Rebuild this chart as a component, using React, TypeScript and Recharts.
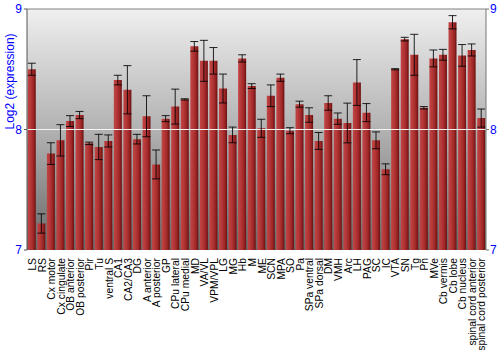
import React from 'react'
import { BarChart, Bar, XAxis, YAxis, CartesianGrid, ErrorBar, ReferenceLine } from 'recharts'

const regions = [
  'LS', 'RS', 'Cx motor', 'Cx cingulate', 'OB anterior', 'OB posterior', 'Pir', 'Tu',
  'ventral S', 'CA1', 'CA2/CA3', 'DG', 'A anterior', 'A posterior', 'GP', 'CPu lateral',
  'CPu medial', 'MD', 'VA/VL', 'VPM/VPL', 'LG', 'MG', 'Hb', 'M', 'ME', 'SCN', 'MPA', 'SO',
  'Pa', 'SPa ventral', 'SPa dorsal', 'DM', 'VMH', 'Arc', 'LH', 'PAG', 'SC', 'IC', 'VTA',
  'SN', 'Tg', 'Pn', 'MVe', 'Cb vermis', 'Cb lobe', 'Cb nucleus', 'spinal cord anterior',
  'spinal cord posterior',
]

const expression = [
  8.5, 7.22, 7.8, 7.91, 8.07, 8.12, 7.885, 7.855,
  7.905, 8.41, 8.33, 7.92, 8.11, 7.71, 8.09, 8.19,
  8.25, 8.69, 8.57, 8.57, 8.34, 7.955, 8.59, 8.36, 8.01, 8.28, 8.43, 7.99,
  8.21, 8.12, 7.905, 8.22, 8.09, 8.054, 8.39, 8.14, 7.91, 7.67, 8.5,
  8.75, 8.62, 8.18, 8.59, 8.62, 8.89, 8.615, 8.66,
  8.095,
]

const stdErr = [
  0.05, 0.08, 0.09, 0.13, 0.045, 0.03, 0.01, 0.105,
  0.05, 0.04, 0.2, 0.04, 0.17, 0.12, 0.025, 0.145,
  0.005, 0.04, 0.17, 0.11, 0.12, 0.065, 0.03, 0.02, 0.075, 0.09, 0.03, 0.025,
  0.025, 0.06, 0.07, 0.06, 0.047, 0.165, 0.19, 0.075, 0.07, 0.045, 0.005,
  0.015, 0.17, 0.01, 0.07, 0.045, 0.055, 0.09, 0.05,
  0.075,
]

const yTicks = [7, 8, 9]

const data = regions.map((name, i) => ({ name, value: expression[i], err: stdErr[i] }))

const RegionTick = (props: any) => {
  const { x, y, payload } = props
  return (
    <text
      transform={`translate(${x + 0.5},${y}) rotate(-90)`}
      textAnchor="end"
      dy="0.36em"
      fontSize={10.3}
      fontFamily="'Liberation Sans', Arial, sans-serif"
      fill="#000"
    >
      {payload.value}
    </text>
  )
}

const tickStyle = { fill: '#0000ff', fontSize: 12, fontFamily: "'Liberation Sans', Arial, sans-serif" }

export default function App() {
  return (
    <div style={{ position: 'absolute', left: 0, top: 0 }}>
      <BarChart
        width={500}
        height={350}
        data={data}
        margin={{ top: 9, right: 0, bottom: 0, left: 0 }}
        barCategoryGap="8%"
      >
        <defs>
          <linearGradient id="bg" x1="0" y1="0" x2="0" y2="1">
            <stop offset="0%" stopColor="#efefef" />
            <stop offset="50%" stopColor="#b2b2b2" />
            <stop offset="100%" stopColor="#686868" />
          </linearGradient>
          <linearGradient id="barFill" x1="0" y1="0" x2="1" y2="0">
            <stop offset="0%" stopColor="#c24545" />
            <stop offset="35%" stopColor="#b53838" />
            <stop offset="70%" stopColor="#9e2626" />
            <stop offset="100%" stopColor="#6a1010" />
          </linearGradient>
        </defs>
        <CartesianGrid horizontal={false} vertical={false} fill="url(#bg)" />
        <ReferenceLine yAxisId="left" y={8} stroke="#f4f4f4" strokeWidth={1.2} />
        <ReferenceLine yAxisId="left" y={9} stroke="#808080" strokeWidth={1} />
        <XAxis
          dataKey="name"
          interval={0}
          height={100}
          axisLine={false}
          tickLine={false}
          tick={<RegionTick />}
          tickMargin={2}
        />
        <YAxis
          yAxisId="left"
          domain={[7, 9]}
          ticks={yTicks}
          width={27}
          tickSize={3}
          tickMargin={2}
          axisLine={{ stroke: '#555' }}
          tickLine={{ stroke: '#555' }}
          tick={tickStyle}
          allowDataOverflow
          label={{
            value: 'Log2 (expression)',
            angle: -90,
            position: 'insideLeft',
            offset: 0,
            dx: 10,
            fill: '#0000ff',
            fontSize: 12,
            fontFamily: "'Liberation Sans', Arial, sans-serif",
          }}
        />
        <YAxis
          yAxisId="right"
          orientation="right"
          domain={[7, 9]}
          ticks={yTicks}
          width={14}
          tickSize={3}
          tickMargin={1}
          axisLine={{ stroke: '#777' }}
          tickLine={{ stroke: '#777' }}
          tick={tickStyle}
          allowDataOverflow
        />
        <Bar yAxisId="left" dataKey="value" fill="url(#barFill)" isAnimationActive={false}>
          <ErrorBar dataKey="err" width={4} stroke="#000" strokeWidth={1} strokeOpacity={0.85} />
        </Bar>
      </BarChart>
    </div>
  )
}
